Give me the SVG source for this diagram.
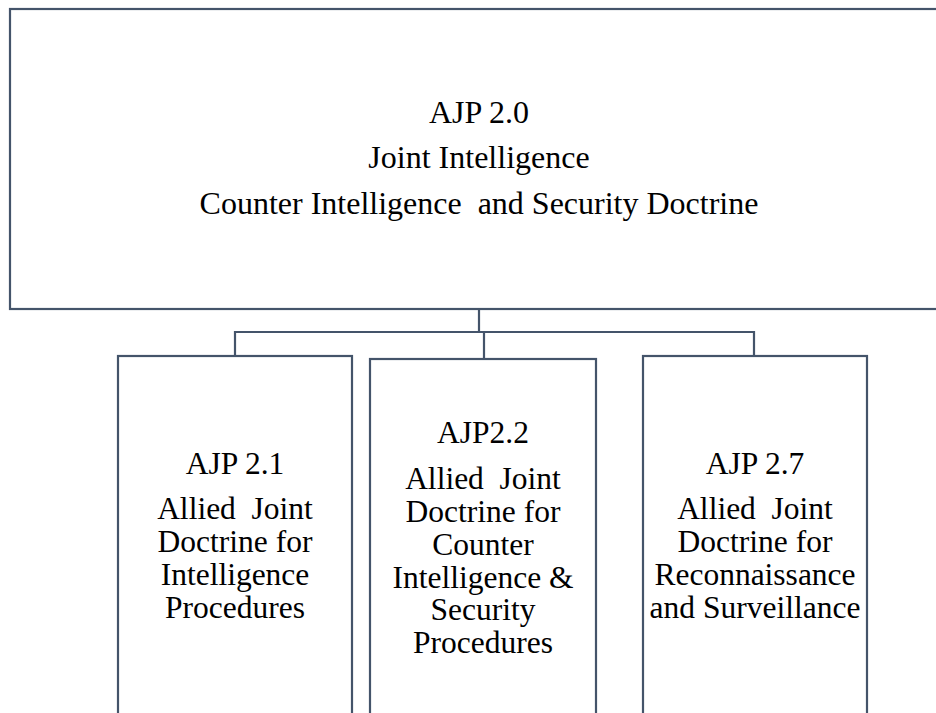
<svg xmlns="http://www.w3.org/2000/svg" width="936" height="713" viewBox="0 0 936 713">
<style>
.box{fill:#fff;stroke:#44546a;stroke-width:2.2}
.conn{fill:none;stroke:#44546a;stroke-width:2.2}
.t{font-family:"Liberation Serif","Times New Roman",serif;fill:#000;text-anchor:middle;white-space:pre}
.top{font-size:32px}
.sub{font-size:31.5px}
</style>
<rect width="936" height="713" fill="#fff"/>
<g id="connectors">
<path class="conn" d="M479 309 V332 M235 356 V332 H754 V356 M484 332 V359"/>
</g>
<g id="node-ajp20">
<rect class="box" x="10" y="9" width="940" height="300"/>
<text class="t top" x="479" y="123">AJP 2.0</text>
<text class="t top" x="479" y="168">Joint Intelligence</text>
<text class="t top" x="479" y="214">Counter Intelligence  and Security Doctrine</text>
</g>
<g id="node-ajp21">
<rect class="box" x="118" y="356" width="234" height="380"/>
<text class="t sub" x="235" y="474">AJP 2.1</text>
<text class="t sub" x="235" y="519">Allied  Joint</text>
<text class="t sub" x="235" y="552">Doctrine for</text>
<text class="t sub" x="235" y="585">Intelligence</text>
<text class="t sub" x="235" y="618">Procedures</text>
</g>
<g id="node-ajp22">
<rect class="box" x="370" y="359" width="226" height="380"/>
<text class="t sub" x="483" y="443">AJP2.2</text>
<text class="t sub" x="483" y="489">Allied  Joint</text>
<text class="t sub" x="483" y="522">Doctrine for</text>
<text class="t sub" x="483" y="555">Counter</text>
<text class="t sub" x="483" y="588">Intelligence &amp;</text>
<text class="t sub" x="483" y="620">Security</text>
<text class="t sub" x="483" y="653">Procedures</text>
</g>
<g id="node-ajp27">
<rect class="box" x="643" y="356" width="224" height="380"/>
<text class="t sub" x="755" y="474">AJP 2.7</text>
<text class="t sub" x="755" y="519">Allied  Joint</text>
<text class="t sub" x="755" y="552">Doctrine for</text>
<text class="t sub" x="755" y="585">Reconnaissance</text>
<text class="t sub" x="755" y="618">and Surveillance</text>
</g>
</svg>
